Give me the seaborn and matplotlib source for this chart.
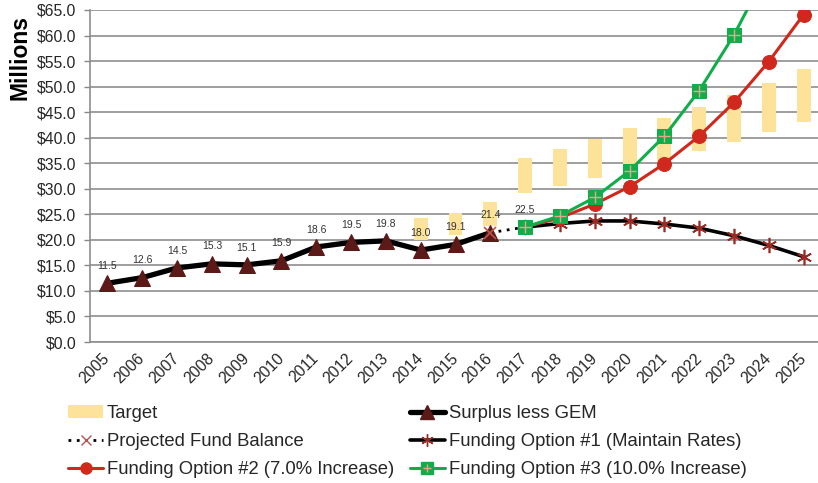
import numpy as np
import pandas as pd
import matplotlib
matplotlib.use("Agg")
import matplotlib.pyplot as plt
import seaborn as sns
from matplotlib.lines import Line2D
from matplotlib.patches import Patch
from matplotlib.legend_handler import HandlerTuple

years = [str(y) for y in range(2005, 2026)]

surplus_years = years[:12]
surplus_vals = [11.5, 12.6, 14.5, 15.3, 15.1, 15.9, 18.6, 19.5, 19.8, 18.0, 19.1, 21.4]

proj_years = ["2016", "2017"]
proj_vals = [21.4, 22.5]

opt_years = years[12:]
opt1_vals = [22.5, 23.2, 23.7, 23.7, 23.1, 22.3, 20.8, 18.9, 16.7]
opt2_vals = [22.5, 24.3, 27.0, 30.4, 34.9, 40.3, 46.9, 54.9, 64.1]
opt3_vals = [22.5, 24.7, 28.3, 33.5, 40.3, 49.2, 60.1, 73.2, 88.0]

target_years = years[9:]
target_low = [20.0, 20.9, 22.7, 29.2, 30.6, 32.2, 33.8, 35.5, 37.3, 39.2, 41.1, 43.1]
target_high = [24.3, 25.2, 27.4, 36.1, 37.8, 39.7, 41.8, 43.9, 46.1, 48.4, 50.8, 53.4]

label_years = years[:13]
label_vals = surplus_vals + [22.5]

yticks = np.arange(0, 65.1, 5)

sns.set_theme(style="white")
plt.rcParams['font.family'] = ['Liberation Sans', 'DejaVu Sans']

fig = plt.figure(figsize=(8.18, 4.83), dpi=100)
ax = fig.add_axes([90/818, 1 - 342/483, 731/818, 332/483])

pos = {y: i for i, y in enumerate(years)}

def df(ys, vs):
    return pd.DataFrame({"x": [pos[y] for y in ys], "v": vs})

# target floating bars
tx = [pos[y] for y in target_years]
ax.bar(tx, np.array(target_high) - np.array(target_low), bottom=target_low,
       width=0.4, color="#FDE29A", zorder=2, linewidth=0)

# surplus less GEM
sns.lineplot(data=df(surplus_years, surplus_vals), x="x", y="v", ax=ax, color="black",
             lw=3.8, marker="^", markersize=12, markerfacecolor="#5B1A17",
             markeredgecolor="#5B1A17", zorder=5)

# projected fund balance
sns.lineplot(data=df(proj_years, proj_vals), x="x", y="v", ax=ax, color="black",
             lw=2, linestyle=(0, (1, 2)), zorder=4)
ax.plot([pos["2016"]], [21.4], linestyle="none", marker="x", markersize=8,
        markeredgecolor="#C0504D", markeredgewidth=1.2, zorder=6)

# option 1
sns.lineplot(data=df(opt_years, opt1_vals), x="x", y="v", ax=ax, color="black",
             lw=2.6, marker=(6, 2, 0), markersize=11, markeredgecolor="#9B2A23",
             markeredgewidth=1.2, zorder=5)

# option 2
sns.lineplot(data=df(opt_years, opt2_vals), x="x", y="v", ax=ax, color="#D0281C",
             lw=2.2, marker="o", markersize=10, markerfacecolor="#D0281C",
             markeredgecolor="#D0281C", zorder=6)

# option 3
sns.lineplot(data=df(opt_years, opt3_vals), x="x", y="v", ax=ax, color="#12AD4B",
             lw=2.2, marker="s", markersize=9.5, markerfacecolor="#12AD4B",
             markeredgecolor="#12AD4B", zorder=7)
ax.plot([pos[y] for y in opt_years], opt3_vals, linestyle="none", marker="+",
        markersize=8, markeredgecolor="#E9A58C", markeredgewidth=1.0, zorder=8)

# data labels
for y, v in zip(label_years, label_vals):
    ax.annotate(f"{v:.1f}", (pos[y], v), xytext=(0, 12.5), textcoords="offset points",
                ha="center", va="center", fontsize=7.5, color="#333333", zorder=9)

ax.set_xlim(-0.5, 20.5)
ax.set_ylim(0, 65)
ax.set_yticks(yticks)
ax.set_yticklabels([f"${t:.1f}" for t in yticks], fontsize=11.3)
ax.set_xticks(range(len(years)))
ax.set_xticklabels(years, rotation=45, ha="right", va="center", rotation_mode="anchor",
                   fontsize=11.3)
ax.set_xticks(np.arange(0.5, len(years) - 0.5, 1), minor=True)
ax.tick_params(axis="x", which="major", length=0, pad=10)
ax.tick_params(axis="x", which="minor", length=5, color="#888888", width=1)
ax.tick_params(axis="y", which="major", length=4, color="#888888", width=1, pad=6, left=True)
ax.grid(axis="y", color="#8E8E8E", lw=1.2, zorder=0)
ax.set_axisbelow(True)
for s in ["top", "right"]:
    ax.spines[s].set_visible(False)
for s in ["left", "bottom"]:
    ax.spines[s].set_color("#8E8E8E")
    ax.spines[s].set_linewidth(1.2)
ax.set_xlabel("")
ax.set_ylabel("")

fig.text(20/818, 1 - 57/483, "Millions", rotation=90, ha="center", va="center",
         fontsize=16.5, fontweight="bold", color="black")

h_target = Patch(facecolor="#FDE29A", edgecolor="none")
h_surplus = Line2D([], [], color="black", lw=3.8, marker="^", markersize=10,
                   markerfacecolor="#5B1A17", markeredgecolor="#5B1A17")
h_proj = Line2D([], [], color="black", lw=2, linestyle=(0, (1, 2)), marker="x",
                markersize=7, markeredgecolor="#C0504D")
h_opt1 = Line2D([], [], color="black", lw=2.6, marker=(6, 2, 0), markersize=9,
                markeredgecolor="#9B2A23")
h_opt2 = Line2D([], [], color="#D0281C", lw=2.2, marker="o", markersize=8,
                markerfacecolor="#D0281C", markeredgecolor="#D0281C")
h_opt3a = Line2D([], [], color="#12AD4B", lw=2.2, marker="s", markersize=8,
                 markerfacecolor="#12AD4B", markeredgecolor="#12AD4B")
h_opt3b = Line2D([], [], linestyle="none", marker="+", markersize=6,
                 markeredgecolor="#E9A58C")

handles = [h_target, h_proj, h_opt2, h_surplus, h_opt1, (h_opt3a, h_opt3b)]
labels = ["Target", "Projected Fund Balance", "Funding Option #2 (7.0% Increase)",
          "Surplus less GEM", "Funding Option #1 (Maintain Rates)",
          "Funding Option #3 (10.0% Increase)"]
fig.legend(handles, labels, ncol=2, loc="upper left",
           bbox_to_anchor=(59/818, 1 - 396/483), frameon=False, fontsize=13.3,
           handlelength=1.9, handletextpad=0.2, columnspacing=0.84, labelspacing=0.6,
           borderpad=0, handler_map={tuple: HandlerTuple(ndivide=1)})

fig.savefig("out.png", dpi=100)
